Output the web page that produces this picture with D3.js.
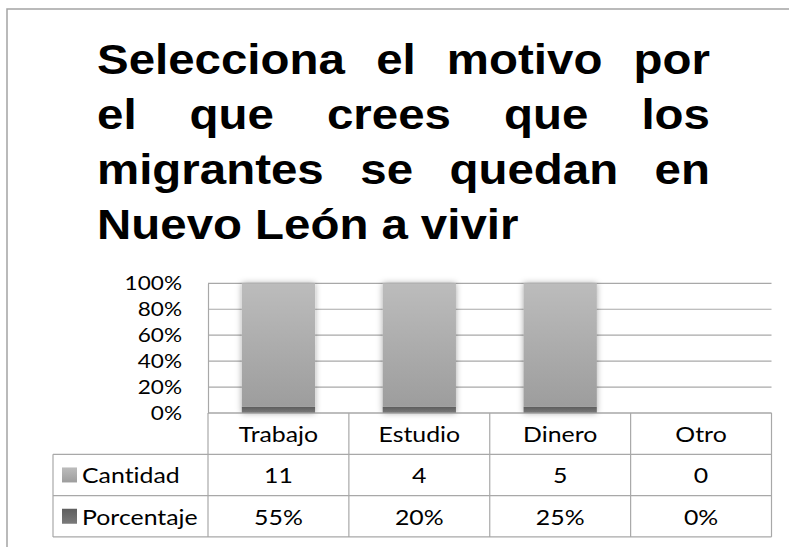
<!DOCTYPE html>
<html>
<head>
<meta charset="utf-8">
<script src="https://cdn.jsdelivr.net/npm/d3@7"></script>
<style>
  body { margin: 0; background: #fff; }
  svg { display: block; }
  text { font-variant-ligatures: none; }
</style>
</head>
<body>
<svg width="789" height="547"></svg>
<script>
    // datos de la tabla
    const categorias = ["Trabajo", "Estudio", "Dinero", "Otro"];
    const cantidad = [11, 4, 5, 0];
    const porcentaje = [0.55, 0.20, 0.25, 0];
    const porcentajeTexto = ["55%", "20%", "25%", "0%"];
    const yTicks = [0, 0.2, 0.4, 0.6, 0.8, 1];
    const tituloLineas = [
      "Selecciona el motivo por",
      "el que crees que los",
      "migrantes se quedan en",
      "Nuevo León a vivir"
    ];

    const svg = d3.select("svg");
    const width = +svg.attr("width");
    const height = +svg.attr("height");

    const plot = { left: 208, right: 771.5, top: 283.3, bottom: 413 };
    const rowH = 41.3;
    const legendLeft = 53;
    const font = "Lato, 'Noto Sans', sans-serif";
    const lineColor = "#a8a8a8";
    const sx = 1.13; // el texto del original sale algo ensanchado

    // ensancha un texto alrededor de su punto de anclaje
    function stretch(sel) {
      sel.each(function() {
        const t = d3.select(this);
        const tx = +t.attr("x") || 0;
        const ty = +t.attr("y") || 0;
        t.attr("x", 0).attr("y", 0)
          .attr("transform", `translate(${tx},${ty}) scale(${sx},1)`);
      });
    }

    // marco exterior
    svg.append("rect")
      .attr("x", 7).attr("y", 9)
      .attr("width", width + 20).attr("height", height + 20)
      .attr("fill", "none")
      .attr("stroke", "#a4a4a4")
      .attr("stroke-width", 1.5);

    // titulo justificado
    const tLeft = 97, tRight = 710, tTop = 73.5, tLH = 55.3;
    tituloLineas.forEach((linea, i) => {
      const words = linea.split(" ");
      const g = svg.append("g");
      const texts = words.map(w => g.append("text")
        .attr("y", tTop + i * tLH)
        .style("font-family", "'Liberation Sans', Arial, sans-serif")
        .style("font-weight", "bold")
        .style("font-size", "42px")
        .attr("fill", "#000")
        .text(w));
      const widths = texts.map(t => t.node().getComputedTextLength() * sx);
      const total = d3.sum(widths);
      const last = i === tituloLineas.length - 1;
      const gap = last ? 13 : (tRight - tLeft - total) / (words.length - 1);
      let x = tLeft;
      texts.forEach((t, k) => { t.attr("x", x); x += widths[k] + gap; t.call(stretch); });
    });

    // escalas
    const x = d3.scaleBand()
      .domain(categorias)
      .range([plot.left, plot.right])
      .paddingInner(0).paddingOuter(0);

    const y = d3.scaleLinear()
      .domain([0, 1])
      .range([plot.bottom, plot.top]);

    // gradientes
    const defs = svg.append("defs");
    const gradCant = defs.append("linearGradient")
      .attr("id", "gradCant").attr("x1", 0).attr("y1", 0).attr("x2", 0).attr("y2", 1);
    gradCant.append("stop").attr("offset", "0%").attr("stop-color", "#bcbcbc");
    gradCant.append("stop").attr("offset", "100%").attr("stop-color", "#9d9d9d");
    const gradPorc = defs.append("linearGradient")
      .attr("id", "gradPorc").attr("x1", 0).attr("y1", 0).attr("x2", 0).attr("y2", 1);
    gradPorc.append("stop").attr("offset", "0%").attr("stop-color", "#5e5e5e");
    gradPorc.append("stop").attr("offset", "100%").attr("stop-color", "#7a7a7a");
    const shadow = defs.append("filter").attr("id", "sombra")
      .attr("x", "-30%").attr("y", "-10%").attr("width", "160%").attr("height", "130%");
    shadow.append("feDropShadow")
      .attr("dx", 0).attr("dy", 0)
      .attr("stdDeviation", 3)
      .attr("flood-color", "#000")
      .attr("flood-opacity", 0.35);

    // lineas de cuadricula
    svg.append("g")
      .selectAll("line")
      .data(yTicks)
      .join("line")
      .attr("x1", plot.left).attr("x2", plot.right)
      .attr("y1", d => y(d)).attr("y2", d => y(d))
      .attr("stroke", lineColor)
      .attr("stroke-width", 1.2);

    // eje Y
    const yAxis = svg.append("g")
      .attr("class", "y-axis")
      .attr("transform", `translate(${plot.left},0)`)
      .call(d3.axisLeft(y).tickValues(yTicks).tickFormat(d3.format(".0%")).tickSize(0).tickPadding(26));
    yAxis.select(".domain").attr("stroke", lineColor).attr("stroke-width", 1.2);
    yAxis.selectAll("text")
      .style("font-family", font)
      .style("font-size", "20px")
      .attr("fill", "#000")
      .call(stretch);

    // apilado 100%
    const filas = categorias.map((c, i) => ({ cat: c, Porcentaje: porcentaje[i], Cantidad: cantidad[i] }));
    const stack = d3.stack()
      .keys(["Porcentaje", "Cantidad"])
      .offset(d3.stackOffsetExpand);
    const series = stack(filas);
    const barW = x.bandwidth() * 0.52;

    const barras = svg.append("g").attr("filter", "url(#sombra)");
    barras.selectAll("g")
      .data(series)
      .join("g")
      .attr("fill", d => d.key === "Cantidad" ? "url(#gradCant)" : "url(#gradPorc)")
      .selectAll("rect")
      .data(d => d.filter(p => !isNaN(p[1]) && p[1] - p[0] > 0))
      .join("rect")
      .attr("x", d => x(d.data.cat) + (x.bandwidth() - barW) / 2)
      .attr("width", barW)
      .attr("y", d => y(d[1]))
      .attr("height", d => y(d[0]) - y(d[1]));

    // tabla de datos
    const tabla = svg.append("g");
    const rowsY = [plot.bottom, plot.bottom + rowH, plot.bottom + 2 * rowH, plot.bottom + 3 * rowH];

    // lineas horizontales
    tabla.append("line")
      .attr("x1", plot.left).attr("x2", plot.right)
      .attr("y1", rowsY[0]).attr("y2", rowsY[0])
      .attr("stroke", lineColor).attr("stroke-width", 1.2);
    rowsY.slice(1).forEach(yy => {
      tabla.append("line")
        .attr("x1", legendLeft).attr("x2", plot.right)
        .attr("y1", yy).attr("y2", yy)
        .attr("stroke", lineColor).attr("stroke-width", 1.2);
    });
    // lineas verticales
    const bordes = categorias.map(c => x(c)).concat([plot.right]);
    bordes.forEach(xx => {
      tabla.append("line")
        .attr("x1", xx).attr("x2", xx)
        .attr("y1", rowsY[0]).attr("y2", rowsY[3])
        .attr("stroke", lineColor).attr("stroke-width", 1.2);
    });
    tabla.append("line")
      .attr("x1", legendLeft).attr("x2", legendLeft)
      .attr("y1", rowsY[1]).attr("y2", rowsY[3])
      .attr("stroke", lineColor).attr("stroke-width", 1.2);

    const cellText = (sel) => sel
      .attr("text-anchor", "middle")
      .attr("dominant-baseline", "central")
      .style("font-family", font)
      .style("font-size", "22px")
      .attr("fill", "#000");

    tabla.selectAll(".cat")
      .data(categorias)
      .join("text")
      .attr("class", "cat")
      .attr("x", d => x(d) + x.bandwidth() / 2)
      .attr("y", rowsY[0] + rowH / 2)
      .call(cellText)
      .text(d => d)
      .call(stretch);

    tabla.selectAll(".cant")
      .data(cantidad)
      .join("text")
      .attr("class", "cant")
      .attr("x", (d, i) => x(categorias[i]) + x.bandwidth() / 2)
      .attr("y", rowsY[1] + rowH / 2)
      .call(cellText)
      .text(d => d)
      .call(stretch);

    tabla.selectAll(".porc")
      .data(porcentajeTexto)
      .join("text")
      .attr("class", "porc")
      .attr("x", (d, i) => x(categorias[i]) + x.bandwidth() / 2)
      .attr("y", rowsY[2] + rowH / 2)
      .call(cellText)
      .text(d => d)
      .call(stretch);

    // leyenda en la tabla
    const leyenda = [
      { nombre: "Cantidad", fill: "url(#gradCant)" },
      { nombre: "Porcentaje", fill: "url(#gradPorc)" }
    ];
    leyenda.forEach((l, i) => {
      const cy = rowsY[i + 1] + rowH / 2;
      tabla.append("rect")
        .attr("x", 62).attr("y", cy - 7.5)
        .attr("width", 15).attr("height", 15)
        .attr("fill", l.fill);
      tabla.append("text")
        .attr("x", 82).attr("y", cy)
        .attr("dominant-baseline", "central")
        .style("font-family", font)
        .style("font-size", "22px")
        .attr("fill", "#000")
        .text(l.nombre)
        .call(stretch);
    });
</script>
</body>
</html>
